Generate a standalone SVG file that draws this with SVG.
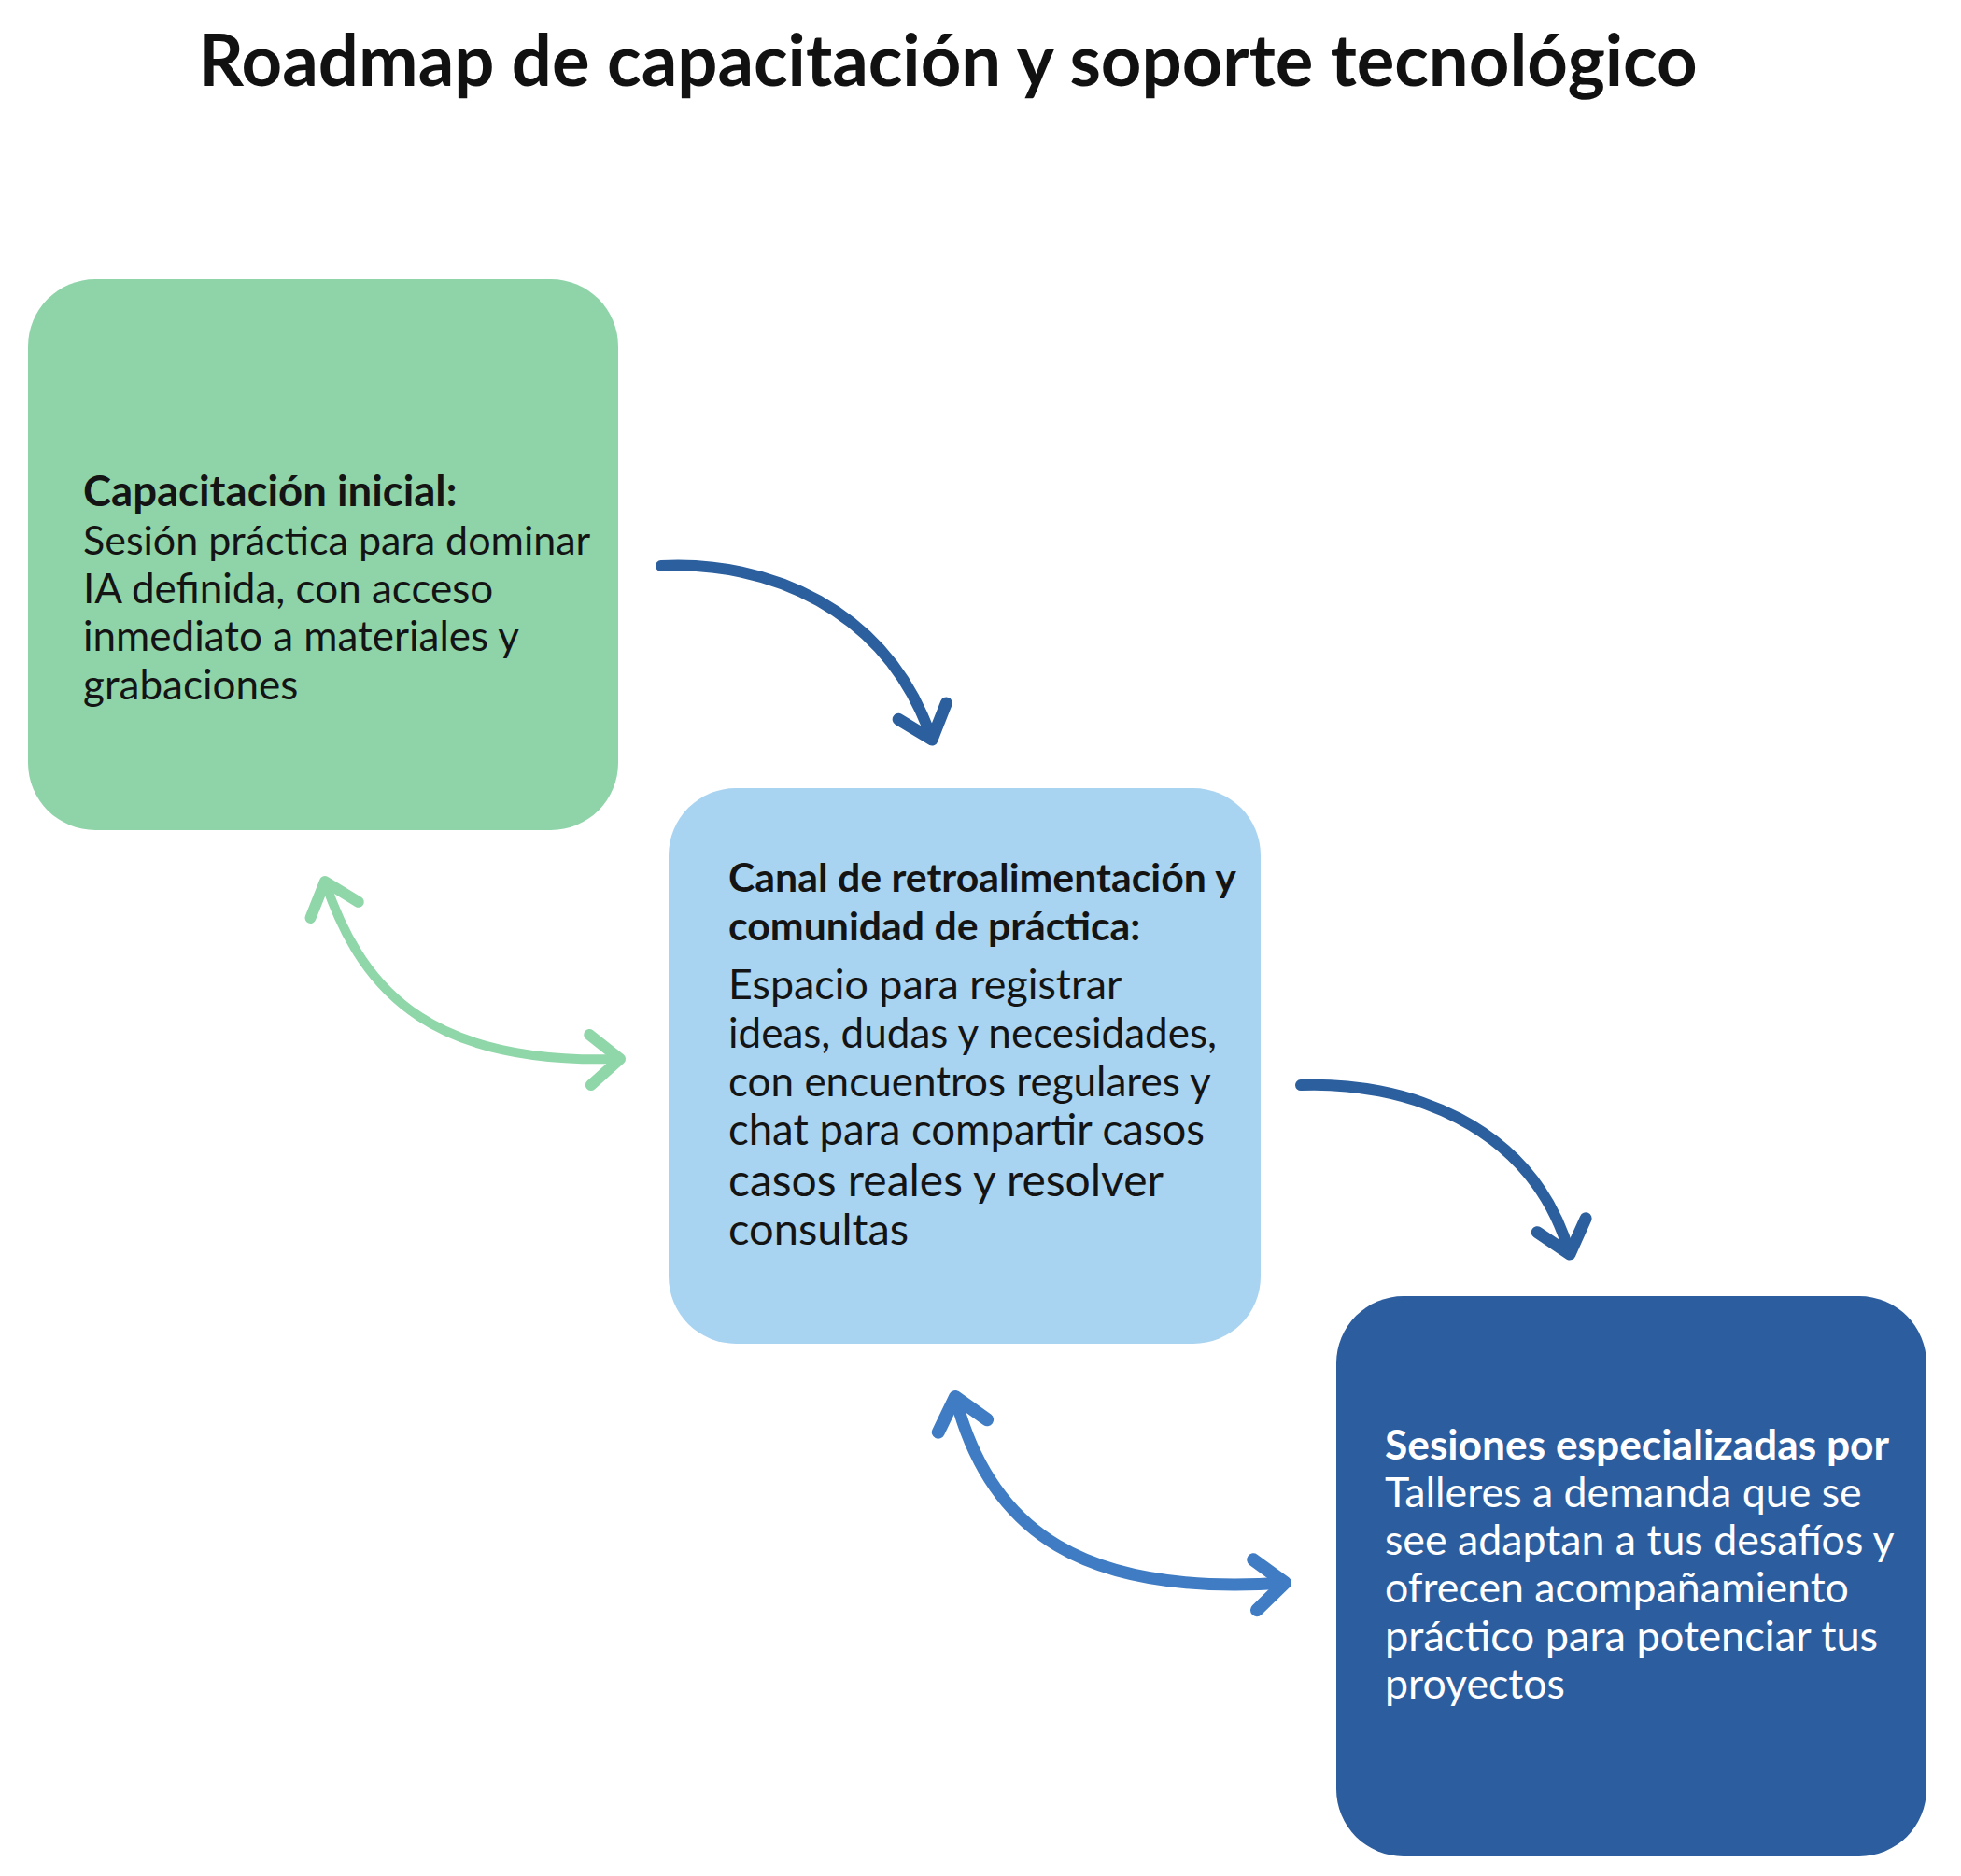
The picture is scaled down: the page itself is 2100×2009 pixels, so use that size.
<svg xmlns="http://www.w3.org/2000/svg" width="2100" height="2009" viewBox="0 0 2100 2009">
<style>
.title{font-family:"Lato","Open Sans","Liberation Sans",sans-serif;font-weight:700;font-size:76px;fill:#111}
.t{font-family:"Lato","Open Sans","Liberation Sans",sans-serif;font-size:44px;fill:#141414}
.b{font-weight:700}
.w{fill:#ffffff}
.conn{fill:none;stroke-linecap:round;stroke-linejoin:round}
</style>
<defs>
<marker id="ahDark" markerUnits="userSpaceOnUse" orient="auto" refX="0" refY="0" markerWidth="80" markerHeight="80" viewBox="-50 -40 60 80" overflow="visible">
<path d="M-32,-27 L0,0 L-32,27" fill="none" stroke="#2c5f9e" stroke-width="13" stroke-linecap="round" stroke-linejoin="round"/>
</marker>
<marker id="ahGreen" markerUnits="userSpaceOnUse" orient="auto-start-reverse" refX="0" refY="0" markerWidth="80" markerHeight="80" viewBox="-50 -40 60 80" overflow="visible">
<path d="M-32,-27 L0,0 L-32,27" fill="none" stroke="#8fd6a9" stroke-width="12" stroke-linecap="round" stroke-linejoin="round"/>
</marker>
<marker id="ahMid" markerUnits="userSpaceOnUse" orient="auto-start-reverse" refX="0" refY="0" markerWidth="80" markerHeight="80" viewBox="-50 -40 60 80" overflow="visible">
<path d="M-32,-27 L0,0 L-32,27" fill="none" stroke="#3f7cc4" stroke-width="14" stroke-linecap="round" stroke-linejoin="round"/>
</marker>
</defs>
<rect width="2100" height="2009" fill="#ffffff"/>
<text class="title" x="1015" y="92" text-anchor="middle">Roadmap de capacitación y soporte tecnológico</text>

<g id="connectors">
<path class="conn" d="M708,606 C820,600 950,650 998,792" stroke="#2c5f9e" stroke-width="12" marker-end="url(#ahDark)"/>
<path class="conn" d="M348,944 C390,1070 470,1140 664,1134" stroke="#8fd6a9" stroke-width="10" marker-start="url(#ahGreen)" marker-end="url(#ahGreen)"/>
<path class="conn" d="M1393,1162 C1500,1158 1640,1200 1681,1343" stroke="#2c5f9e" stroke-width="12" marker-end="url(#ahDark)"/>
<path class="conn" d="M1023,1496 C1060,1640 1160,1710 1376,1695" stroke="#3f7cc4" stroke-width="13" marker-start="url(#ahMid)" marker-end="url(#ahMid)"/>
</g>

<g id="node-capacitacion">
<rect x="30" y="299" width="632" height="590" rx="72" fill="#8fd4a9"/>
<text class="t b" x="89" y="542" style="font-size:45.5px">Capacitación inicial:</text>
<text class="t" x="89" y="594" style="font-size:43px">Sesión práctica para dominar</text>
<text class="t" x="89" y="646">IA definida, con acceso</text>
<text class="t" x="89" y="697">inmediato a materiales y</text>
<text class="t" x="89" y="749">grabaciones</text>
</g>

<g id="node-canal">
<rect x="716" y="844" width="634" height="595" rx="72" fill="#a9d4f1"/>
<text class="t b" x="780" y="955" style="font-size:42.8px">Canal de retroalimentación y</text>
<text class="t b" x="780" y="1007" style="font-size:42.8px">comunidad de práctica:</text>
<text class="t" x="780" y="1070" style="font-size:44.8px">Espacio para registrar</text>
<text class="t" x="780" y="1122">ideas, dudas y necesidades,</text>
<text class="t" x="780" y="1174">con encuentros regulares y</text>
<text class="t" x="780" y="1226" style="font-size:45.5px">chat para compartir casos</text>
<text class="t" x="780" y="1281" style="font-size:48px">casos reales y resolver</text>
<text class="t" x="780" y="1333" style="font-size:47px">consultas</text>
</g>

<g id="node-sesiones">
<rect x="1431" y="1388" width="632" height="600" rx="72" fill="#2b5d9f"/>
<text class="t b w" x="1483" y="1563" style="font-size:44.3px">Sesiones especializadas por</text>
<text class="t w" x="1483" y="1614" style="font-size:44.7px">Talleres a demanda que se</text>
<text class="t w" x="1483" y="1665" style="font-size:44.7px">see adaptan a tus desafíos y</text>
<text class="t w" x="1483" y="1716" style="font-size:44.7px">ofrecen acompañamiento</text>
<text class="t w" x="1483" y="1768" style="font-size:45.2px">práctico para potenciar tus</text>
<text class="t w" x="1483" y="1819" style="font-size:44.7px">proyectos</text>
</g>
</svg>
